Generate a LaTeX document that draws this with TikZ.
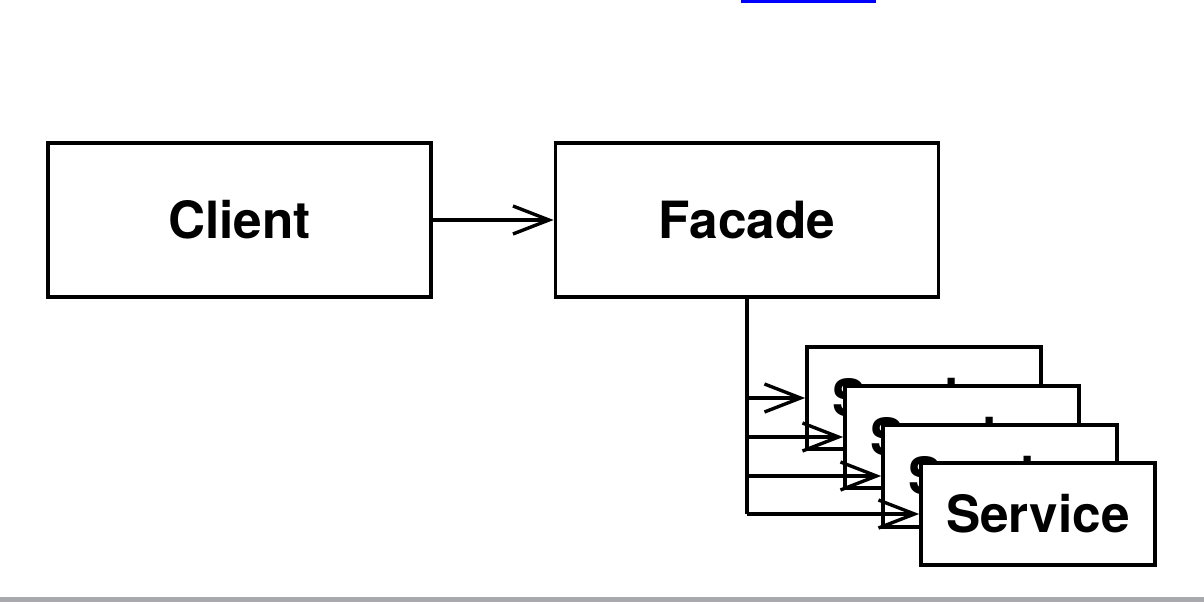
\documentclass[tikz,border=0pt]{standalone}
\usepackage{fontspec}
\setmainfont{TeX Gyre Heros}
\usetikzlibrary{arrows.meta}
\definecolor{barGray}{RGB}{168,169,173}
\begin{document}
\begin{tikzpicture}[x=0.025cm,y=-0.025cm,
        box/.style={draw,line width=2.6pt,fill=white,font=\fontsize{36.5}{44}\selectfont\bfseries},
        bigbox/.style={box,minimum width=9.575cm,minimum height=3.85cm},
        svcbox/.style={box,minimum width=5.85cm,minimum height=2.55cm},
        link/.style={line width=2.4pt,-{Straight Barb[length=0.9cm,width=0.7cm]}}]
        \useasboundingbox(0,0)rectangle(1204,602);
        \fill[blue](741,0)rectangle(876,3);
        \fill[barGray](0,597)rectangle(1204,602);

        \node[bigbox](client)at(239.5,220){Client};
        \node[bigbox](facade)at(747,220){Facade};
        \node[svcbox](svcA)at(924,398){Service};
        \node[svcbox](svcB)at(962,437){Service};
        \node[svcbox](svcC)at(1000,476){Service};
        \node[svcbox](svcD)at(1038,514){Service};

        \draw[link](client)--(facade);
        \draw[line width=2.4pt](facade.south)--(facade.south|-svcD.west);
        \draw[link](facade.south|-svcA.west)--(svcA.west);
        \draw[link](facade.south|-svcB.west)--(svcB.west);
        \draw[link](facade.south|-svcC.west)--(svcC.west);
        \draw[link](facade.south|-svcD.west)--(svcD.west);
\end{tikzpicture}
\end{document}
